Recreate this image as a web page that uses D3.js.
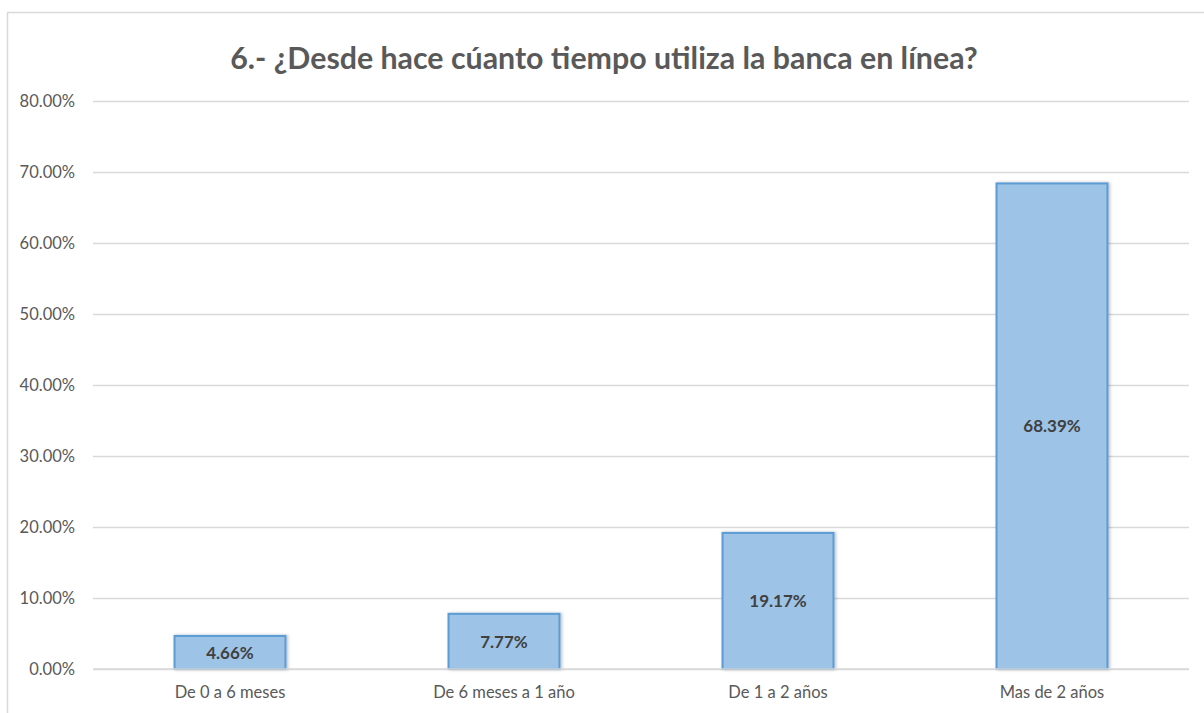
<!DOCTYPE html>
<html>
<head>
<meta charset="utf-8">
<script src="https://cdn.jsdelivr.net/npm/d3@7"></script>
<style>
  body { margin: 0; background: #fff; }
  svg { display: block; font-family: Lato, "Open Sans", sans-serif; }
</style>
</head>
<body>
<svg id="chart" width="1204" height="713"></svg>
<script>
const TITLE = "6.- ¿Desde hace cúanto tiempo utiliza la banca en línea?";
const categories = ["De 0 a 6 meses", "De 6 meses a 1 año", "De 1 a 2 años", "Mas de 2 años"];
const values = [0.0466, 0.0777, 0.1917, 0.6839];
const yTicks = [0, 0.1, 0.2, 0.3, 0.4, 0.5, 0.6, 0.7, 0.8];

const FONT = "Lato, 'Open Sans', sans-serif";
const svg = d3.select("#chart");
const margin = { top: 101, right: 15, bottom: 44, left: 93 };
const WIDTH = 1204;
const HEIGHT = 713;

// chart frame (cropped on right/bottom in the original)
svg.append("path")
  .attr("d", `M7.5,${HEIGHT} V12.5 H${WIDTH}`)
  .attr("fill", "none")
  .attr("stroke", "#d9d9d9")
  .attr("stroke-width", 1.5);

const xScale = d3.scaleBand()
  .domain(categories)
  .range([margin.left, WIDTH - margin.right])
  .paddingInner(0.595)
  .paddingOuter(0.2975);

const yScale = d3.scaleLinear()
  .domain([0, 0.8])
  .range([HEIGHT - margin.bottom, margin.top]);

// gridlines + y labels
const yAxis = svg.append("g")
  .attr("transform", `translate(${margin.left},0)`)
  .attr("font-family", FONT)
  .call(d3.axisLeft(yScale)
    .tickValues(yTicks)
    .tickSize(-(WIDTH - margin.right - margin.left))
    .tickPadding(18)
    .tickFormat((d) => d3.format(".2f")(d * 100) + "%"));
yAxis.attr("font-family", FONT);
yAxis.select(".domain").remove();
yAxis.selectAll(".tick line").attr("stroke", "#d9d9d9").attr("stroke-width", 1.3);
yAxis.selectAll(".tick text")
  .attr("fill", "#595959")
  .style("font-family", FONT)
  .style("font-size", "16.5px");

// bars
const shadow = svg.append("defs").append("filter")
  .attr("id", "shadow").attr("x", "-10%").attr("y", "-10%")
  .attr("width", "130%").attr("height", "130%");
shadow.append("feDropShadow")
  .attr("dx", 1.5).attr("dy", 0).attr("stdDeviation", 1.5)
  .attr("flood-color", "#000").attr("flood-opacity", 0.25);

svg.append("g")
  .selectAll("rect")
  .data(values)
  .join("rect")
  .attr("x", (d, i) => xScale(categories[i]))
  .attr("y", (d) => yScale(d))
  .attr("width", xScale.bandwidth())
  .attr("height", (d) => yScale(0) - yScale(d))
  .attr("fill", "#9dc3e6")
  .attr("stroke", "#5b9bd5")
  .attr("stroke-width", 2)
  .attr("filter", "url(#shadow)");

// baseline
svg.append("line")
  .attr("x1", margin.left).attr("x2", WIDTH - margin.right)
  .attr("y1", yScale(0)).attr("y2", yScale(0))
  .attr("stroke", "#d9d9d9").attr("stroke-width", 1.5);

// value labels in the middle of each bar
svg.append("g")
  .selectAll("text")
  .data(values)
  .join("text")
  .attr("x", (d, i) => xScale(categories[i]) + xScale.bandwidth() / 2)
  .attr("y", (d) => (yScale(d) + yScale(0)) / 2)
  .attr("dy", "0.36em")
  .attr("text-anchor", "middle")
  .attr("fill", "#404040")
  .style("font-size", "17px")
  .style("font-weight", "bold")
  .text((d) => d3.format(".2f")(d * 100) + "%");

// category labels
svg.append("g")
  .selectAll("text")
  .data(categories)
  .join("text")
  .attr("x", (d) => xScale(d) + xScale.bandwidth() / 2)
  .attr("y", 698)
  .attr("text-anchor", "middle")
  .attr("fill", "#595959")
  .style("font-size", "16.5px")
  .text((d) => d);

// title, sized to the original's width
const title = svg.append("text")
  .attr("x", 604)
  .attr("y", 69)
  .attr("text-anchor", "middle")
  .attr("fill", "#595959")
  .style("font-size", "25px")
  .style("font-weight", "bold")
  .text(TITLE);
const tw = title.node().getComputedTextLength();
title.style("font-size", `${25 * 748 / tw}px`);
</script>
</body>
</html>
